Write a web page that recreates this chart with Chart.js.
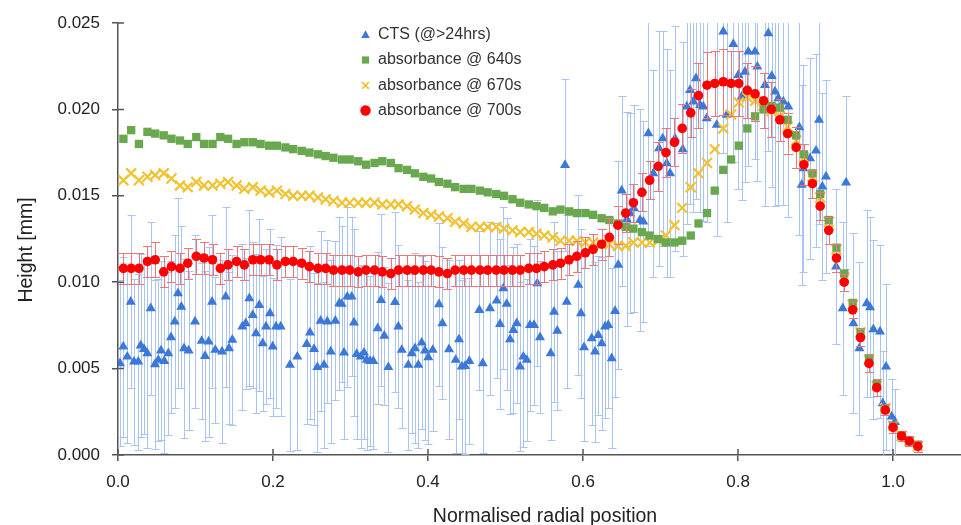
<!DOCTYPE html>
<html>
<head>
<meta charset="utf-8">
<script src="https://cdn.jsdelivr.net/npm/chart.js@4"></script>
<style>
  html, body { margin: 0; padding: 0; background: #ffffff; }
  canvas { display: block; }
</style>
</head>
<body>
<canvas id="c" width="961" height="525"></canvas>
<script>
// ---------------- DATA ----------------
const seriesNames = ['CTS (@>24hrs)', 'absorbance @ 640s', 'absorbance @ 670s', 'absorbance @ 700s'];
const xTickValues = [0, 0.2, 0.4, 0.6, 0.8, 1.0];
const yTickValues = [0, 0.005, 0.010, 0.015, 0.020, 0.025];

// CTS series (x, height, error)
const ctsX = [
  0.0026,0.0068,0.0120,0.0164,0.0206,0.0262,0.0293,0.0335,0.0378,0.0422,0.0477,0.0520,0.0555,0.0597,0.0649,0.0684,0.0732,0.0774,0.0817,0.0852,
  0.0912,0.0994,0.1080,0.1123,0.1170,0.1213,0.1255,0.1342,0.1390,0.1432,0.1475,0.1604,0.1648,0.1694,0.1738,0.1781,0.1823,0.1867,0.1910,0.1961,
  0.1996,0.2039,0.2099,0.2219,0.2314,0.2435,0.2477,0.2529,0.2572,0.2615,0.2658,0.2701,0.2745,0.2804,0.2855,
  0.2886,0.2916,0.2959,0.3015,0.3045,0.3080,0.3132,0.3174,0.3209,0.3252,0.3294,0.3351,0.3394,0.3436,0.3488,0.3574,0.3617,0.3661,0.3746,0.3790,
  0.3832,0.3875,0.3919,0.3961,0.4004,0.4061,0.4142,0.4185,0.4271,0.4357,0.4400,0.4435,0.4477,0.4533,0.4662,0.4706,0.4800,0.4886,0.4929,0.4972,
  0.5015,0.5058,0.5101,0.5145,0.5187,0.5230,0.5274,0.5316,0.5368,0.5410,0.5445,0.5583,0.5626,0.5668,0.5790,
  0.5768,0.5939,0.5974,0.6013,0.6112,0.6155,0.6197,0.6241,0.6284,0.6326,0.6370,0.6413,0.6455,0.6499,0.6564,0.6606,0.6658,0.6735,0.6778,0.6843,
  0.6907,0.6981,0.7028,0.7080,0.7123,0.7187,0.7286,0.7338,0.7381,0.7423,0.7458,0.7510,0.7552,0.7596,0.7725,0.7810,0.7854,0.7939,0.8004,0.8048,
  0.8090,0.8133,0.8219,0.8249,0.8348,0.8391,0.8435,0.8477,0.8520,0.8585,0.8649,0.8791,0.8822,0.8843,0.8929,0.9006,0.9045,0.9088,0.9135,0.9265,
  0.9351,0.9394,0.9488,0.9566,0.9661,0.9703,0.9746,0.9832,0.9867,0.9910,0.9983,1.0026
];
const ctsY = [
  0.00531,0.00627,0.00569,0.00887,0.00540,0.00540,0.00633,0.00613,0.00588,0.00849,0.00525,0.00550,0.00604,0.00544,0.00588,0.00681,0.00772,0.00936,0.00858,0.00617,
  0.00604,0.00772,0.00660,0.00573,0.00656,0.00887,0.00608,0.00598,0.00916,0.00617,0.00666,0.00743,0.00762,0.00907,0.00810,0.00704,0.00868,0.00646,0.00743,0.00820,
  0.00627,0.00743,0.00743,0.00521,0.00569,0.00642,0.00708,0.00613,0.00508,0.00777,0.00521,0.00772,0.00598,0.00777,0.00878,
  0.00874,0.00592,0.00916,0.00916,0.00766,0.00584,0.00569,0.00592,0.00550,0.00544,0.00544,0.00733,0.00897,0.00690,0.00508,0.00885,0.00743,0.00608,0.00521,0.00588,
  0.00617,0.00521,0.00650,0.00604,0.00565,0.00608,0.00872,0.00762,0.00611,0.00550,0.00669,0.00511,0.00515,0.00544,0.00839,0.00531,0.00849,0.00893,0.00758,0.00965,
  0.00874,0.00669,0.00723,0.00762,0.00511,0.00569,0.00550,0.00752,0.00752,0.00994,0.00681,0.00588,0.00829,0.00719,0.00887,
  0.01678,0.00984,0.00820,0.00623,0.00675,0.00598,0.00694,0.00646,0.00743,0.00752,0.00560,0.00833,0.01100,0.01530,0.01364,0.01399,0.01428,0.01360,0.01350,0.01862,
  0.01630,0.01775,0.01832,0.01688,0.01630,0.01832,0.01769,0.02016,0.02112,0.02045,0.02180,0.02025,0.02016,0.01948,0.01910,0.02450,0.01968,0.02378,0.02199,0.02074,
  0.02218,0.02334,0.02334,0.02247,0.02141,0.02440,0.02193,0.02103,0.02064,0.02045,0.02016,0.01896,0.01563,0.01659,0.01717,0.01761,0.01939,0.01553,0.01611,0.01090,
  0.00849,0.01576,0.00762,0.00617,0.00878,0.00855,0.00727,0.00714,0.00299,0.00511,0.00222,0.00190
];
const ctsErr = [
  0.0048,0.0052,0.0050,0.0050,0.0048,0.0051,0.0053,0.0049,0.0055,0.0050,0.0049,0.0047,0.0052,0.0053,0.0047,0.0044,0.0050,0.0055,0.0047,0.0052,
  0.0046,0.0050,0.0045,0.0049,0.0055,0.0050,0.0042,0.0053,0.0052,0.0044,0.0049,0.0048,0.0038,0.0051,0.0042,0.0046,0.0050,0.0039,0.0045,0.0049,
  0.0040,0.0047,0.0052,0.0050,0.0054,0.0046,0.0050,0.0044,0.0049,0.0052,0.0048,0.0047,0.0053,0.0046,0.0050,
  0.0045,0.0050,0.0052,0.0046,0.0054,0.0049,0.0053,0.0050,0.0052,0.0049,0.0051,0.0044,0.0050,0.0040,0.0049,0.0052,0.0047,0.0045,0.0049,0.0046,
  0.0055,0.0048,0.0050,0.0052,0.0050,0.0047,0.0047,0.0044,0.0052,0.0054,0.0046,0.0050,0.0051,0.0048,0.0046,0.0052,0.0050,0.0045,0.0049,0.0047,
  0.0050,0.0043,0.0048,0.0046,0.0049,0.0052,0.0047,0.0050,0.0046,0.0048,0.0044,0.0050,0.0052,0.0046,0.0050,
  0.0050,0.0052,0.0049,0.0054,0.0050,0.0052,0.0046,0.0050,0.0053,0.0048,0.0052,0.0050,0.0060,0.0055,0.0062,0.0058,0.0060,0.0064,0.0058,0.0065,
  0.0060,0.0068,0.0062,0.0066,0.0060,0.0065,0.0062,0.0068,0.0066,0.0064,0.0070,0.0062,0.0066,0.0060,0.0064,0.0070,0.0062,0.0068,0.0066,0.0060,
  0.0064,0.0066,0.0062,0.0066,0.0070,0.0068,0.0064,0.0066,0.0062,0.0060,0.0064,0.0062,0.0058,0.0060,0.0058,0.0056,0.0060,0.0054,0.0056,0.0045,
  0.0050,0.0050,0.0052,0.0050,0.0054,0.0052,0.0052,0.0050,0.0030,0.0048,0.0022,0.0019
];

// absorbance series share one set of radial positions
const absX = [
  0.007,0.017,0.027,0.038,0.048,0.059,0.069,0.080,0.090,0.101,0.111,0.122,0.132,0.142,0.153,0.163,0.174,0.184,0.195,0.205,
  0.216,0.226,0.237,0.247,0.258,0.268,0.278,0.289,0.299,0.310,0.320,0.331,0.341,0.352,0.362,0.373,0.383,0.394,0.404,0.414,
  0.425,0.435,0.446,0.456,0.467,0.477,0.488,0.498,0.509,0.519,0.530,0.540,0.550,0.561,0.571,0.582,0.592,0.603,0.613,0.624,
  0.634,0.645,0.655,0.665,0.676,0.686,0.697,0.707,0.718,0.728,0.739,0.749,0.760,0.770,0.781,0.791,0.801,0.812,0.822,0.833,
  0.843,0.854,0.864,0.875,0.885,0.896,0.906,0.917,0.927,0.937,0.948,0.958,0.969,0.979,0.990,1.000,1.011,1.021,1.032
];
const abs640 = [
  0.0183,0.0188,0.0180,0.0187,0.0186,0.0185,0.0183,0.0182,0.0180,0.0184,0.0180,0.0180,0.0184,0.0183,0.0180,0.0181,0.0181,0.0180,0.0179,0.0179,
  0.0178,0.0177,0.0176,0.0175,0.0174,0.0173,0.0172,
  0.0171,0.0171,0.0170,0.0168,0.0169,0.0170,0.0169,0.0166,0.0165,0.0163,0.0161,0.0160,0.0158,0.0157,0.0155,0.0154,0.0154,0.0153,0.0152,0.0151,
  0.0150,0.0148,0.0146,0.0145,0.0144,0.0143,0.0141,
  0.0142,0.0141,0.0140,0.0140,0.0139,0.0137,0.0136,0.0134,0.0132,0.0131,0.0129,0.0127,0.0125,0.0123,0.0123,0.0124,0.0127,0.0134,0.0140,0.0153,
  0.0165,0.0171,0.0179,0.0189,0.0196,0.0200,0.0202,0.0201,0.0194,0.0185,0.0174,0.0163,0.0151,0.0136,0.0120,0.0105,0.0088,0.0071,0.0056,0.0041,
  0.0027,0.0017,0.0011,0.0008,0.0006
];
const abs670 = [
  0.0159,0.0163,0.0159,0.0161,0.0162,0.0163,0.0160,0.0156,0.0155,0.0158,0.0156,0.0156,0.0157,0.0158,0.0156,0.0154,0.0155,0.0153,0.0152,0.0153,
  0.0151,0.0150,0.0150,0.0150,0.0149,0.0148,0.0147,
  0.0146,0.0146,0.0146,0.0146,0.0146,0.0145,0.0145,0.0145,0.0144,0.0142,0.0140,0.0139,0.0138,0.0137,0.0135,0.0134,0.0132,0.0132,0.0132,0.0132,
  0.0131,0.0130,0.0129,0.0129,0.0128,0.0127,0.0126,
  0.0124,0.0124,0.0124,0.0123,0.0123,0.0122,0.0122,0.0121,0.0121,0.0123,0.0123,0.0123,0.0124,0.0127,0.0133,0.0143,0.0155,0.0163,0.0169,0.0177,
  0.0189,0.0197,0.0204,0.0207,0.0205,0.0202,0.0199,0.0196,0.0190,0.0182,0.0172,0.0161,0.0149,0.0135,0.0119,0.0103,0.0087,0.0071,0.0055,0.0040,
  0.0027,0.0017,0.0011,0.0008,0.0005
];
const abs700 = [
  0.0108,0.0108,0.0108,0.0112,0.0113,0.0106,0.0109,0.0108,0.0111,0.0115,0.0114,0.0113,0.0108,0.0110,0.0112,0.0110,0.0113,0.0113,0.0113,0.0110,
  0.0112,0.0112,0.0111,0.0109,0.0108,0.0108,0.0107,
  0.0107,0.0107,0.0106,0.0107,0.0107,0.0106,0.0105,0.0107,0.0107,0.0107,0.0107,0.0107,0.0106,0.0105,0.0107,0.0107,0.0107,0.0107,0.0107,0.0107,
  0.0107,0.0107,0.0107,0.0108,0.0108,0.0109,0.0110,
  0.0111,0.0113,0.0115,0.0117,0.0119,0.0122,0.0126,0.0133,0.0140,0.0146,0.0152,0.0159,0.0167,0.0175,0.0181,0.0189,0.0198,0.0208,0.0214,0.0215,
  0.0216,0.0215,0.0215,0.0211,0.0209,0.0205,0.0200,0.0194,0.0186,0.0178,0.0168,0.0157,0.0144,0.0130,0.0114,0.0100,0.0084,0.0068,0.0053,0.0039,
  0.0026,0.0016,0.0011,0.0008,0.0005
];
const abs700Err = [
  0.0009,0.0009,0.0009,0.0009,0.0010,0.0009,0.0009,0.0009,0.0009,0.0010,0.0009,0.0009,0.0009,0.0009,0.0009,0.0009,0.0009,0.0009,0.0009,0.0009,
  0.0009,0.0009,0.0009,0.0009,0.0009,0.0009,0.0009,0.0009,0.0009,0.0009,0.0009,0.0009,0.0009,0.0009,0.0009,0.0009,0.0009,0.0009,0.0009,0.0009,
  0.0009,0.0009,0.0009,0.0009,0.0009,0.0009,0.0009,0.0009,0.0009,0.0009,0.0009,0.0009,0.0009,0.0009,
  0.0009,0.0009,0.0009,0.0009,0.0009,0.0009,
  0.0011,0.0011,0.0011,0.0011,0.0011,0.0011,
  0.0014,0.0014,0.0014,0.0014,0.0014,
  0.0019,0.0019,0.0019,0.0019,0.0019,0.0019,
  0.0016,0.0016,0.0016,0.0016,
  0.0012,0.0012,0.0012,0.0012,
  0.0008,0.0008,0.0008,0.0008,
  0.0005,0.0005,0.0005,0.0005,0.0005,
  0.0003,0.0003,0.0003,0.0003,0.0003
];

// ---------------- STYLE ----------------
const COL = {
  cts: '#3c78d8', ctsErr: '#a9c4f1',
  g640: '#6aa84f',
  y670: '#f1c232',
  r700: '#ff0000', r700Err: '#ef7676',
  axis: '#555555', text: '#222222', legend: '#333333'
};
const FONT = '"Liberation Sans", Arial, sans-serif';

function pts(xs, ys) { return xs.map((x, i) => ({ x: x, y: ys[i] })); }

// error bar plugin (drawn just beneath each dataset's markers)
const errorBars = {
  id: 'errorBars',
  beforeDatasetDraw(chart, args) {
    const ds = chart.data.datasets[args.index];
    if (!ds.errors) return;
    const { ctx, chartArea: a } = chart;
    const xs = chart.scales.x, ys = chart.scales.y;
    ctx.save();
    ctx.beginPath();
    ctx.rect(a.left, a.top, a.right - a.left, a.bottom - a.top);
    ctx.clip();
    ctx.strokeStyle = ds.errorColor;
    ctx.lineWidth = 1;
    ctx.beginPath();
    ds.data.forEach((p, i) => {
      const e = ds.errors[i];
      if (!e) return;
      const px = Math.round(xs.getPixelForValue(p.x)) + 0.5;
      const t = Math.round(ys.getPixelForValue(p.y + e)) + 0.5;
      const b = Math.round(ys.getPixelForValue(p.y - e)) + 0.5;
      const w = ds.capHalf;
      ctx.moveTo(px, t); ctx.lineTo(px, b);
      ctx.moveTo(px - w, t); ctx.lineTo(px + w, t);
      ctx.moveTo(px - w, b); ctx.lineTo(px + w, b);
    });
    ctx.stroke();
    ctx.restore();
  }
};

// inner halves of the axis tick marks, axis titles and legend
const decorations = {
  id: 'decorations',
  afterDraw(chart) {
    const { ctx, chartArea: a } = chart;
    const xs = chart.scales.x, ys = chart.scales.y;
    ctx.save();
    ctx.strokeStyle = COL.axis;
    ctx.lineWidth = 1.5;
    ctx.beginPath();
    yTickValues.forEach(v => {
      const py = ys.getPixelForValue(v);
      ctx.moveTo(a.left, py); ctx.lineTo(a.left + 6, py);
    });
    xTickValues.forEach(v => {
      const px = xs.getPixelForValue(v);
      ctx.moveTo(px, a.bottom); ctx.lineTo(px, a.bottom - 6);
    });
    ctx.stroke();

    // axis titles
    ctx.fillStyle = COL.text;
    ctx.font = '19.5px ' + FONT;
    ctx.textAlign = 'center';
    ctx.textBaseline = 'alphabetic';
    ctx.fillText('Normalised radial position', 545, 522);
    ctx.save();
    ctx.translate(31.5, 250);
    ctx.rotate(-Math.PI / 2);
    ctx.fillText('Height [mm]', 0, 0);
    ctx.restore();

    // legend
    const mx = 365.5, tx = 378;
    const rows = [34.5, 60, 85.5, 110.5];
    ctx.font = '16px ' + FONT;
    ctx.textAlign = 'left';
    ctx.textBaseline = 'middle';
    ctx.fillStyle = COL.legend;
    seriesNames.forEach((n, i) => ctx.fillText(n, tx, rows[i]));
    // triangle
    ctx.fillStyle = COL.cts;
    ctx.beginPath();
    ctx.moveTo(mx, rows[0] - 4.2);
    ctx.lineTo(mx + 4.3, rows[0] + 3.4);
    ctx.lineTo(mx - 4.3, rows[0] + 3.4);
    ctx.closePath();
    ctx.fill();
    // square
    ctx.fillStyle = COL.g640;
    ctx.fillRect(mx - 3.6, rows[1] - 3.6, 7.2, 7.2);
    // cross
    ctx.strokeStyle = COL.y670;
    ctx.lineWidth = 1.6;
    ctx.beginPath();
    ctx.moveTo(mx - 3.4, rows[2] - 3.4); ctx.lineTo(mx + 3.4, rows[2] + 3.4);
    ctx.moveTo(mx + 3.4, rows[2] - 3.4); ctx.lineTo(mx - 3.4, rows[2] + 3.4);
    ctx.stroke();
    // circle
    ctx.fillStyle = COL.r700;
    ctx.beginPath();
    ctx.arc(mx, rows[3], 5.2, 0, Math.PI * 2);
    ctx.fill();
    ctx.restore();
  }
};

new Chart(document.getElementById('c').getContext('2d'), {
  type: 'scatter',
  data: {
    datasets: [
      {
        label: seriesNames[3], data: pts(absX, abs700), order: 1,
        errors: abs700Err, errorColor: COL.r700Err, capHalf: 4.5,
        pointStyle: 'circle', pointRadius: 4.8, pointBorderWidth: 0,
        backgroundColor: COL.r700, borderColor: COL.r700, showLine: false
      },
      {
        label: seriesNames[1], data: pts(absX, abs640), order: 2,
        pointStyle: 'rect', pointRadius: 5.9, pointBorderWidth: 0,
        backgroundColor: COL.g640, borderColor: COL.g640, showLine: false
      },
      {
        label: seriesNames[2], data: pts(absX, abs670), order: 3,
        pointStyle: 'crossRot', pointRadius: 7, pointBorderWidth: 2.2,
        backgroundColor: COL.y670, borderColor: COL.y670, showLine: false
      },
      {
        label: seriesNames[0], data: pts(ctsX, ctsY), order: 4,
        errors: ctsErr, errorColor: COL.ctsErr, capHalf: 4,
        pointStyle: 'triangle', pointRadius: 5.8, pointBorderWidth: 0,
        backgroundColor: COL.cts, borderColor: COL.cts, showLine: false
      }
    ]
  },
  options: {
    responsive: false,
    animation: false,
    events: [],
    layout: { autoPadding: false, padding: { top: 23, right: 0, bottom: 0, left: 0 } },
    plugins: { legend: { display: false }, tooltip: { enabled: false }, title: { display: false } },
    scales: {
      x: {
        type: 'linear', position: 'bottom', min: 0, max: 1.0877,
        afterBuildTicks: s => { s.ticks = xTickValues.map(v => ({ value: v })); },
        afterFit: s => { s.height = 70; },
        ticks: { padding: 11, color: COL.text, font: { family: FONT, size: 17 }, callback: v => Number(v).toFixed(1) },
        grid: { display: true, drawOnChartArea: false, drawTicks: true, tickLength: 6, color: COL.axis, lineWidth: 1.5 },
        border: { display: true, color: COL.axis, width: 1.5 },
        title: { display: false }
      },
      y: {
        type: 'linear', position: 'left', min: 0, max: 0.025,
        afterBuildTicks: s => { s.ticks = yTickValues.map(v => ({ value: v })); },
        afterFit: s => { s.width = 118; },
        ticks: { padding: 12, color: COL.text, font: { family: FONT, size: 17 }, callback: v => Number(v).toFixed(3) },
        grid: { display: true, drawOnChartArea: false, drawTicks: true, tickLength: 6, color: COL.axis, lineWidth: 1.5 },
        border: { display: true, color: COL.axis, width: 1.5 },
        title: { display: false }
      }
    }
  },
  plugins: [errorBars, decorations]
});
</script>
</body>
</html>
